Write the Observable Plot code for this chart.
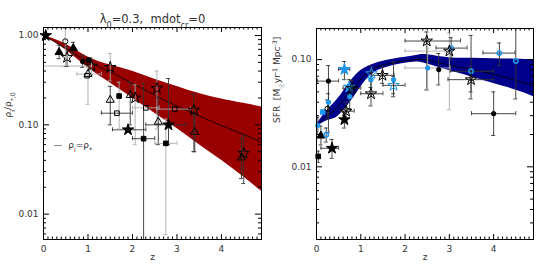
<!DOCTYPE html>
<html><head><meta charset="utf-8">
<script src="https://cdn.jsdelivr.net/npm/d3@7"></script>
<script src="https://cdn.jsdelivr.net/npm/@observablehq/plot@0.6"></script>
<style>
body{margin:0;background:#fff;}
#wrap{display:flex;width:545px;height:273px;overflow:hidden;}
#wrap svg{display:block;}
</style></head><body><div id="wrap"></div>
<script>
// ---------- axis ticks ----------
const xTicks = [0, 1, 2, 3, 4];
const leftYTicks = [0.01, 0.1, 1];
const rightYTicks = [0.01, 0.1];

// ---------- left panel: stellar mass density ratio ----------
const leftBandZ   = [0, 0.5, 1, 1.5, 2, 2.5, 3, 3.5, 4, 4.5, 4.9];
const leftBandHi  = [1.0, 0.80, 0.575, 0.468, 0.398, 0.324, 0.269, 0.224, 0.195, 0.174, 0.158];
const leftBandLo  = [1.0, 0.69, 0.437, 0.295, 0.200, 0.135, 0.091, 0.060, 0.040, 0.026, 0.018];
const leftBandMid = [1.0, 0.72, 0.51, 0.39, 0.29, 0.215, 0.162, 0.126, 0.098, 0.078, 0.063];

// z, value, yLow, yHigh, zLow, zHigh, marker, marker colour, bar colour
const leftPts = [
  [0.05, 1.0, 0.93, 1.07, null, null, "S", "k", "k"],
  [0.49, 0.86, 0.45, 1.2, null, null, "c", "k", "g"],
  [0.35, 0.65, 0.55, 0.78, null, null, "T", "k", "k"],
  [0.53, 0.57, 0.45, 0.75, null, null, "s", "k", "k"],
  [0.67, 0.72, 0.62, 0.84, null, null, "T", "k", "k"],
  [0.88, 0.51, 0.44, 0.60, null, null, "C", "k", "k"],
  [1.02, 0.53, null, null, null, null, "Q", "k", "k"],
  [1.08, 0.455, 0.36, 0.56, 0.0, 1.08, "s", "k", "g"],
  [1.0, 0.37, 0.17, 0.44, 0.75, 1.3, "t", "k", "g"],
  [0.98, 0.355, null, null, null, null, "q", "k", "k"],
  [1.5, 0.44, 0.31, 0.63, null, null, "s", "k", "g"],
  [1.5, 0.19, 0.10, 0.27, null, null, "t", "k", "k"],
  [1.7, 0.21, 0.09, 0.30, null, null, "Q", "k", "g"],
  [1.95, 0.215, 0.10, 0.30, null, null, "t", "k", "k"],
  [2.06, 0.20, 0.06, 0.28, null, null, "s", "k", "g"],
  [1.65, 0.135, null, null, 1.3, 2.0, "q", "k", "k"],
  [1.9, 0.088, null, null, 1.55, 2.3, "S", "k", "k"],
  [2.25, 0.07, 0.004, 0.29, 2.0, 2.5, "Q", "k", "k"],
  [2.3, 0.155, null, null, 2.0, 2.6, "q", "k", "g"],
  [2.55, 0.255, 0.09, 0.40, null, null, "s", "k", "g"],
  [2.58, 0.108, 0.06, 0.20, null, null, "t", "k", "k"],
  [2.81, 0.10, 0.06, 0.33, 2.3, 3.2, "S", "k", "k"],
  [2.95, 0.15, null, null, 2.55, 3.3, "q", "k", "g"],
  [2.75, 0.062, 0.0059, 0.116, 2.5, 3.0, "Q", "k", "g"],
  [3.38, 0.146, 0.05, 0.22, null, null, "s", "k", "k"],
  [3.4, 0.083, 0.05, 0.13, null, null, "t", "k", "k"],
  [4.5, 0.048, 0.022, 0.075, null, null, "s", "k", "k"],
  [4.45, 0.043, 0.025, 0.07, null, null, "t", "k", "k"]
];

// ---------- right panel: star formation rate ----------
const rightBandZ   = [0, 0.25, 0.5, 0.85, 1.22, 1.6, 1.96, 2.25, 2.5, 3.0, 3.5, 4.0, 4.5, 4.9];
const rightBandHi  = [0.0245, 0.034, 0.044, 0.069, 0.0885, 0.0985, 0.1045, 0.109, 0.111, 0.104, 0.103, 0.102, 0.101, 0.100];
const rightBandLo  = [0.0235, 0.027, 0.030, 0.045, 0.071, 0.085, 0.092, 0.095, 0.091, 0.079, 0.069, 0.060, 0.052, 0.045];
const rightBandMid = [0.024, 0.030, 0.037, 0.056, 0.079, 0.091, 0.097, 0.100, 0.099, 0.089, 0.081, 0.073, 0.064, 0.0563];

const rightPts = [
  [2.49, 0.149, 0.052, 0.181, 2.0, 3.25, "x", "k", "k"],
  [3.04, 0.128, 0.10, 0.16, 2.7, 3.4, "o", "b", "k"],
  [3.0, 0.12, 0.034, 0.176, 2.0, 3.0, "x", "k", "g"],
  [4.13, 0.115, 0.088, 0.143, 3.76, 4.48, "o", "b", "k"],
  [4.5, 0.097, 0.043, 0.195, null, null, "o", "b", "k"],
  [2.51, 0.0835, 0.052, 0.128, 2.0, 3.02, "C", "b", "g"],
  [2.76, 0.0806, 0.058, 0.114, null, null, "C", "k", "k"],
  [3.49, 0.0778, 0.043, 0.168, 3.02, 4.0, "o", "b", "k"],
  [3.49, 0.065, 0.05, 0.085, 2.97, 4.0, "x", "k", "k"],
  [4.0, 0.0313, 0.0196, 0.050, 3.5, 4.5, "C", "k", "k"],
  [0.63, 0.081, 0.065, 0.096, 0.5, 0.75, "S", "b", "k"],
  [0.27, 0.063, 0.021, 0.088, 0.02, 0.5, "C", "k", "k"],
  [0.27, 0.040, 0.032, 0.048, null, null, "C", "b", "k"],
  [0.25, 0.0348, 0.028, 0.042, null, null, "c", "k", "k"],
  [0.14, 0.0324, null, null, null, null, "Q", "b", "k"],
  [0.74, 0.0555, 0.047, 0.065, null, null, "S", "b", "k"],
  [0.8, 0.054, 0.045, 0.064, 0.6, 1.0, "x", "k", "k"],
  [0.75, 0.045, 0.035, 0.055, null, null, "C", "b", "k"],
  [0.67, 0.033, 0.027, 0.040, 0.55, 0.85, "x", "k", "k"],
  [0.63, 0.0275, 0.023, 0.032, null, null, "S", "k", "k"],
  [0.35, 0.0149, 0.012, 0.018, 0.1, 0.5, "S", "k", "k"],
  [0.1, 0.0195, 0.016, 0.024, null, null, "T", "k", "k"],
  [0.22, 0.0199, 0.017, 0.023, null, null, "o", "b", "k"],
  [0.03, 0.0243, 0.020, 0.029, null, null, "C", "b", "k"],
  [0.04, 0.0125, 0.011, 0.014, null, null, "Q", "k", "k"],
  [1.23, 0.048, 0.037, 0.063, 1.0, 1.5, "x", "k", "k"],
  [1.23, 0.065, 0.055, 0.077, null, null, "C", "b", "k"],
  [1.24, 0.074, 0.063, 0.086, null, null, "s", "b", "k"],
  [1.49, 0.0713, 0.06, 0.085, 1.25, 1.75, "x", "k", "k"],
  [1.74, 0.065, 0.045, 0.095, null, null, "C", "b", "k"],
  [1.74, 0.0575, 0.048, 0.07, 1.5, 2.0, "s", "b", "k"]
];

// ---------- styling ----------
const COLORS = {k: "#000000", b: "#1f96ee", g: "#a0a0a0"};
const BAR = {k: "#333333", g: "#aaaaaa"};
const MARKERS = {
  S: {symbol: "star", r: 3.6, filled: true},
  s: {symbol: "star", r: 3.6, filled: false},
  T: {symbol: "triangle", r: 3.0, filled: true},
  t: {symbol: "triangle", r: 3.0, filled: false},
  Q: {symbol: "square", r: 2.6, filled: true},
  q: {symbol: "square", r: 2.6, filled: false},
  C: {symbol: "circle", r: 2.2, filled: true},
  c: {symbol: "circle", r: 2.6, filled: false},
  o: {symbol: "circle", r: 2.2, filled: false, sw: 1.5},
  x: {symbol: "star", r: 3.6, filled: false, asterisk: true}
};

function rows(pts) {
  return pts.map(([z, v, ylo, yhi, xlo, xhi, m, c, b]) => ({z, v, ylo, yhi, xlo, xhi, m, col: COLORS[c], bar: BAR[b]}));
}
function band(zs, lo, hi, mid) {
  return zs.map((z, i) => ({z, lo: lo[i], hi: hi[i], mid: mid[i]}));
}

function panel(o) {
  const iw = o.width - o.ml - o.mr, ih = o.height - o.mt - o.mb;
  const ppd = ih / (Math.log10(o.ydom[1]) - Math.log10(o.ydom[0]));
  const capX = 2 / (iw / (o.xdom[1] - o.xdom[0]));
  const capF = Math.pow(10, 2 / ppd);
  const pts = rows(o.pts);
  const ybar = pts.filter(d => d.ylo != null);
  const xbar = pts.filter(d => d.xlo != null);
  const bd = band(o.bz, o.blo, o.bhi, o.bmid);
  const xMinor = d3.range(1, 49).map(i => i / 10).filter(d => d % 1 !== 0);
  const yMinor = [];
  for (let e = -4; e <= 0; e++) for (let k = 2; k <= 9; k++) {
    const v = k * Math.pow(10, e);
    if (v > o.ydom[0] && v < o.ydom[1]) yMinor.push(v);
  }
  const marks = [
    Plot.areaY(bd, {x: "z", y1: "lo", y2: "hi", fill: o.bandColor, curve: "natural", clip: true}),
    Plot.line(bd, {x: "z", y: "mid", stroke: "#000", strokeWidth: 0.8, curve: "natural", clip: true}),
    // error bars
    Plot.ruleX(ybar, {x: "z", y1: "ylo", y2: "yhi", stroke: "bar", strokeWidth: 0.9, clip: true}),
    Plot.ruleY(xbar, {y: "v", x1: "xlo", x2: "xhi", stroke: "bar", strokeWidth: 0.9, clip: true}),
    Plot.ruleY(ybar, {y: "ylo", x1: d => d.z - capX, x2: d => d.z + capX, stroke: "bar", strokeWidth: 0.9, clip: true}),
    Plot.ruleY(ybar, {y: "yhi", x1: d => d.z - capX, x2: d => d.z + capX, stroke: "bar", strokeWidth: 0.9, clip: true}),
    Plot.ruleX(xbar, {x: "xlo", y1: d => d.v / capF, y2: d => d.v * capF, stroke: "bar", strokeWidth: 0.9, clip: true}),
    Plot.ruleX(xbar, {x: "xhi", y1: d => d.v / capF, y2: d => d.v * capF, stroke: "bar", strokeWidth: 0.9, clip: true})
  ];
  for (const [code, st] of Object.entries(MARKERS)) {
    const sel = pts.filter(d => d.m === code);
    if (!sel.length) continue;
    marks.push(Plot.dot(sel, {x: "z", y: "v", symbol: st.symbol, r: st.r,
      fill: st.filled ? "col" : "none", stroke: "col", strokeWidth: st.sw || 1}));
    if (st.asterisk) marks.push(Plot.dot(sel, {x: "z", y: "v", symbol: "asterisk", r: 2, stroke: "col", strokeWidth: 0.8}));
  }
  // inward ticks on all four sides
  marks.push(
    Plot.ruleX(xTicks, {x: d => d, insetTop: ih - 5, stroke: "#000"}),
    Plot.ruleX(xTicks, {x: d => d, insetBottom: ih - 5, stroke: "#000"}),
    Plot.ruleX(xMinor, {x: d => d, insetTop: ih - 2.5, stroke: "#000"}),
    Plot.ruleX(xMinor, {x: d => d, insetBottom: ih - 2.5, stroke: "#000"}),
    Plot.ruleY(o.yTicks, {y: d => d, insetRight: iw - 6, stroke: "#000"}),
    Plot.ruleY(o.yTicks, {y: d => d, insetLeft: iw - 6, stroke: "#000"}),
    Plot.ruleY(yMinor, {y: d => d, insetRight: iw - 3, stroke: "#000"}),
    Plot.ruleY(yMinor, {y: d => d, insetLeft: iw - 3, stroke: "#000"}),
    Plot.frame({stroke: "#000", strokeWidth: 1}),
    Plot.axisX(xTicks, {anchor: "bottom", tickSize: 0, tickPadding: 6, tickFormat: d => String(d), label: null, fill: "#333"}),
    Plot.axisY(o.yTicks, {anchor: "left", tickSize: 0, tickPadding: 5, tickFormat: d3.format(".2f"), label: null, fill: "#333"}),
    Plot.text(["z"], {frameAnchor: "bottom", dy: 20, text: d => d, fill: "#333"}),
    Plot.text([o.yLabelKey], {frameAnchor: "left", dx: o.yLabelDx, dy: o.yLabelDy, rotate: -90, text: d => d, fill: "#333"})
  );
  if (o.extra) marks.push(...o.extra);
  return Plot.plot({
    width: o.width, height: o.height,
    marginLeft: o.ml, marginRight: o.mr, marginTop: o.mt, marginBottom: o.mb,
    x: {domain: o.xdom},
    y: {type: "log", domain: o.ydom},
    color: {type: "identity"},
    style: {fontFamily: "'DejaVu Sans', sans-serif", fontSize: "9px", background: "white", color: "#000"},
    marks
  });
}

function rich(svg, key, parts) {
  d3.select(svg).selectAll("text").filter(function () { return this.textContent === key; }).each(function () {
    const t = d3.select(this);
    t.text(null);
    for (const [s, kind] of parts) {
      const sp = t.append("tspan").text(s);
      if (kind === "sub") sp.attr("baseline-shift", "sub").attr("font-size", "70%");
      if (kind === "sup") sp.attr("baseline-shift", "super").attr("font-size", "70%");
    }
  });
}

const TITLE = "λ0=0.3, mdotcr=0";
const LEGEND = "—  ρi=ρ*";
const YL_LEFT = "ρi/ρ*,0";
const YL_RIGHT = "SFR  [M☉yr-1 Mpc-3]";

const left = panel({
  width: 272, height: 273, ml: 43, mr: 11, mt: 27, mb: 34,
  xdom: [0, 4.9], ydom: [0.0052, 1.23], yTicks: leftYTicks,
  bz: leftBandZ, blo: leftBandLo, bhi: leftBandHi, bmid: leftBandMid, bandColor: "#990000",
  pts: leftPts, yLabelKey: YL_LEFT, yLabelDx: -35, yLabelDy: -16,
  extra: [
    Plot.text([TITLE], {frameAnchor: "top", dy: -13, text: d => d, fontSize: 11.5, fill: "#333"}),
    Plot.text([LEGEND], {frameAnchor: "top-left", dx: 10, dy: 114, textAnchor: "start", text: d => d, fill: "#333"})
  ]
});
const right = panel({
  width: 273, height: 273, ml: 44, mr: 12, mt: 28, mb: 34,
  xdom: [0, 4.9], ydom: [0.0021, 0.195], yTicks: rightYTicks,
  bz: rightBandZ, blo: rightBandLo, bhi: rightBandHi, bmid: rightBandMid, bandColor: "#00008b",
  pts: rightPts, yLabelKey: YL_RIGHT, yLabelDx: -39, yLabelDy: -11
});

rich(left, TITLE, [["λ"], ["0", "sub"], ["=0.3,  mdot"], ["cr", "sub"], ["=0"]]);
rich(left, LEGEND, [["—  ρ"], ["i", "sub"], ["=ρ"], ["*", "sub"]]);
rich(left, YL_LEFT, [["ρ"], ["i", "sub"], ["/ρ"], ["*,0", "sub"]]);
rich(right, YL_RIGHT, [["SFR  [M"], ["☉", "sub"], ["yr"], ["-1", "sup"], [" Mpc"], ["-3", "sup"], ["]"]]);

document.getElementById("wrap").append(left, right);
</script>
</body></html>
